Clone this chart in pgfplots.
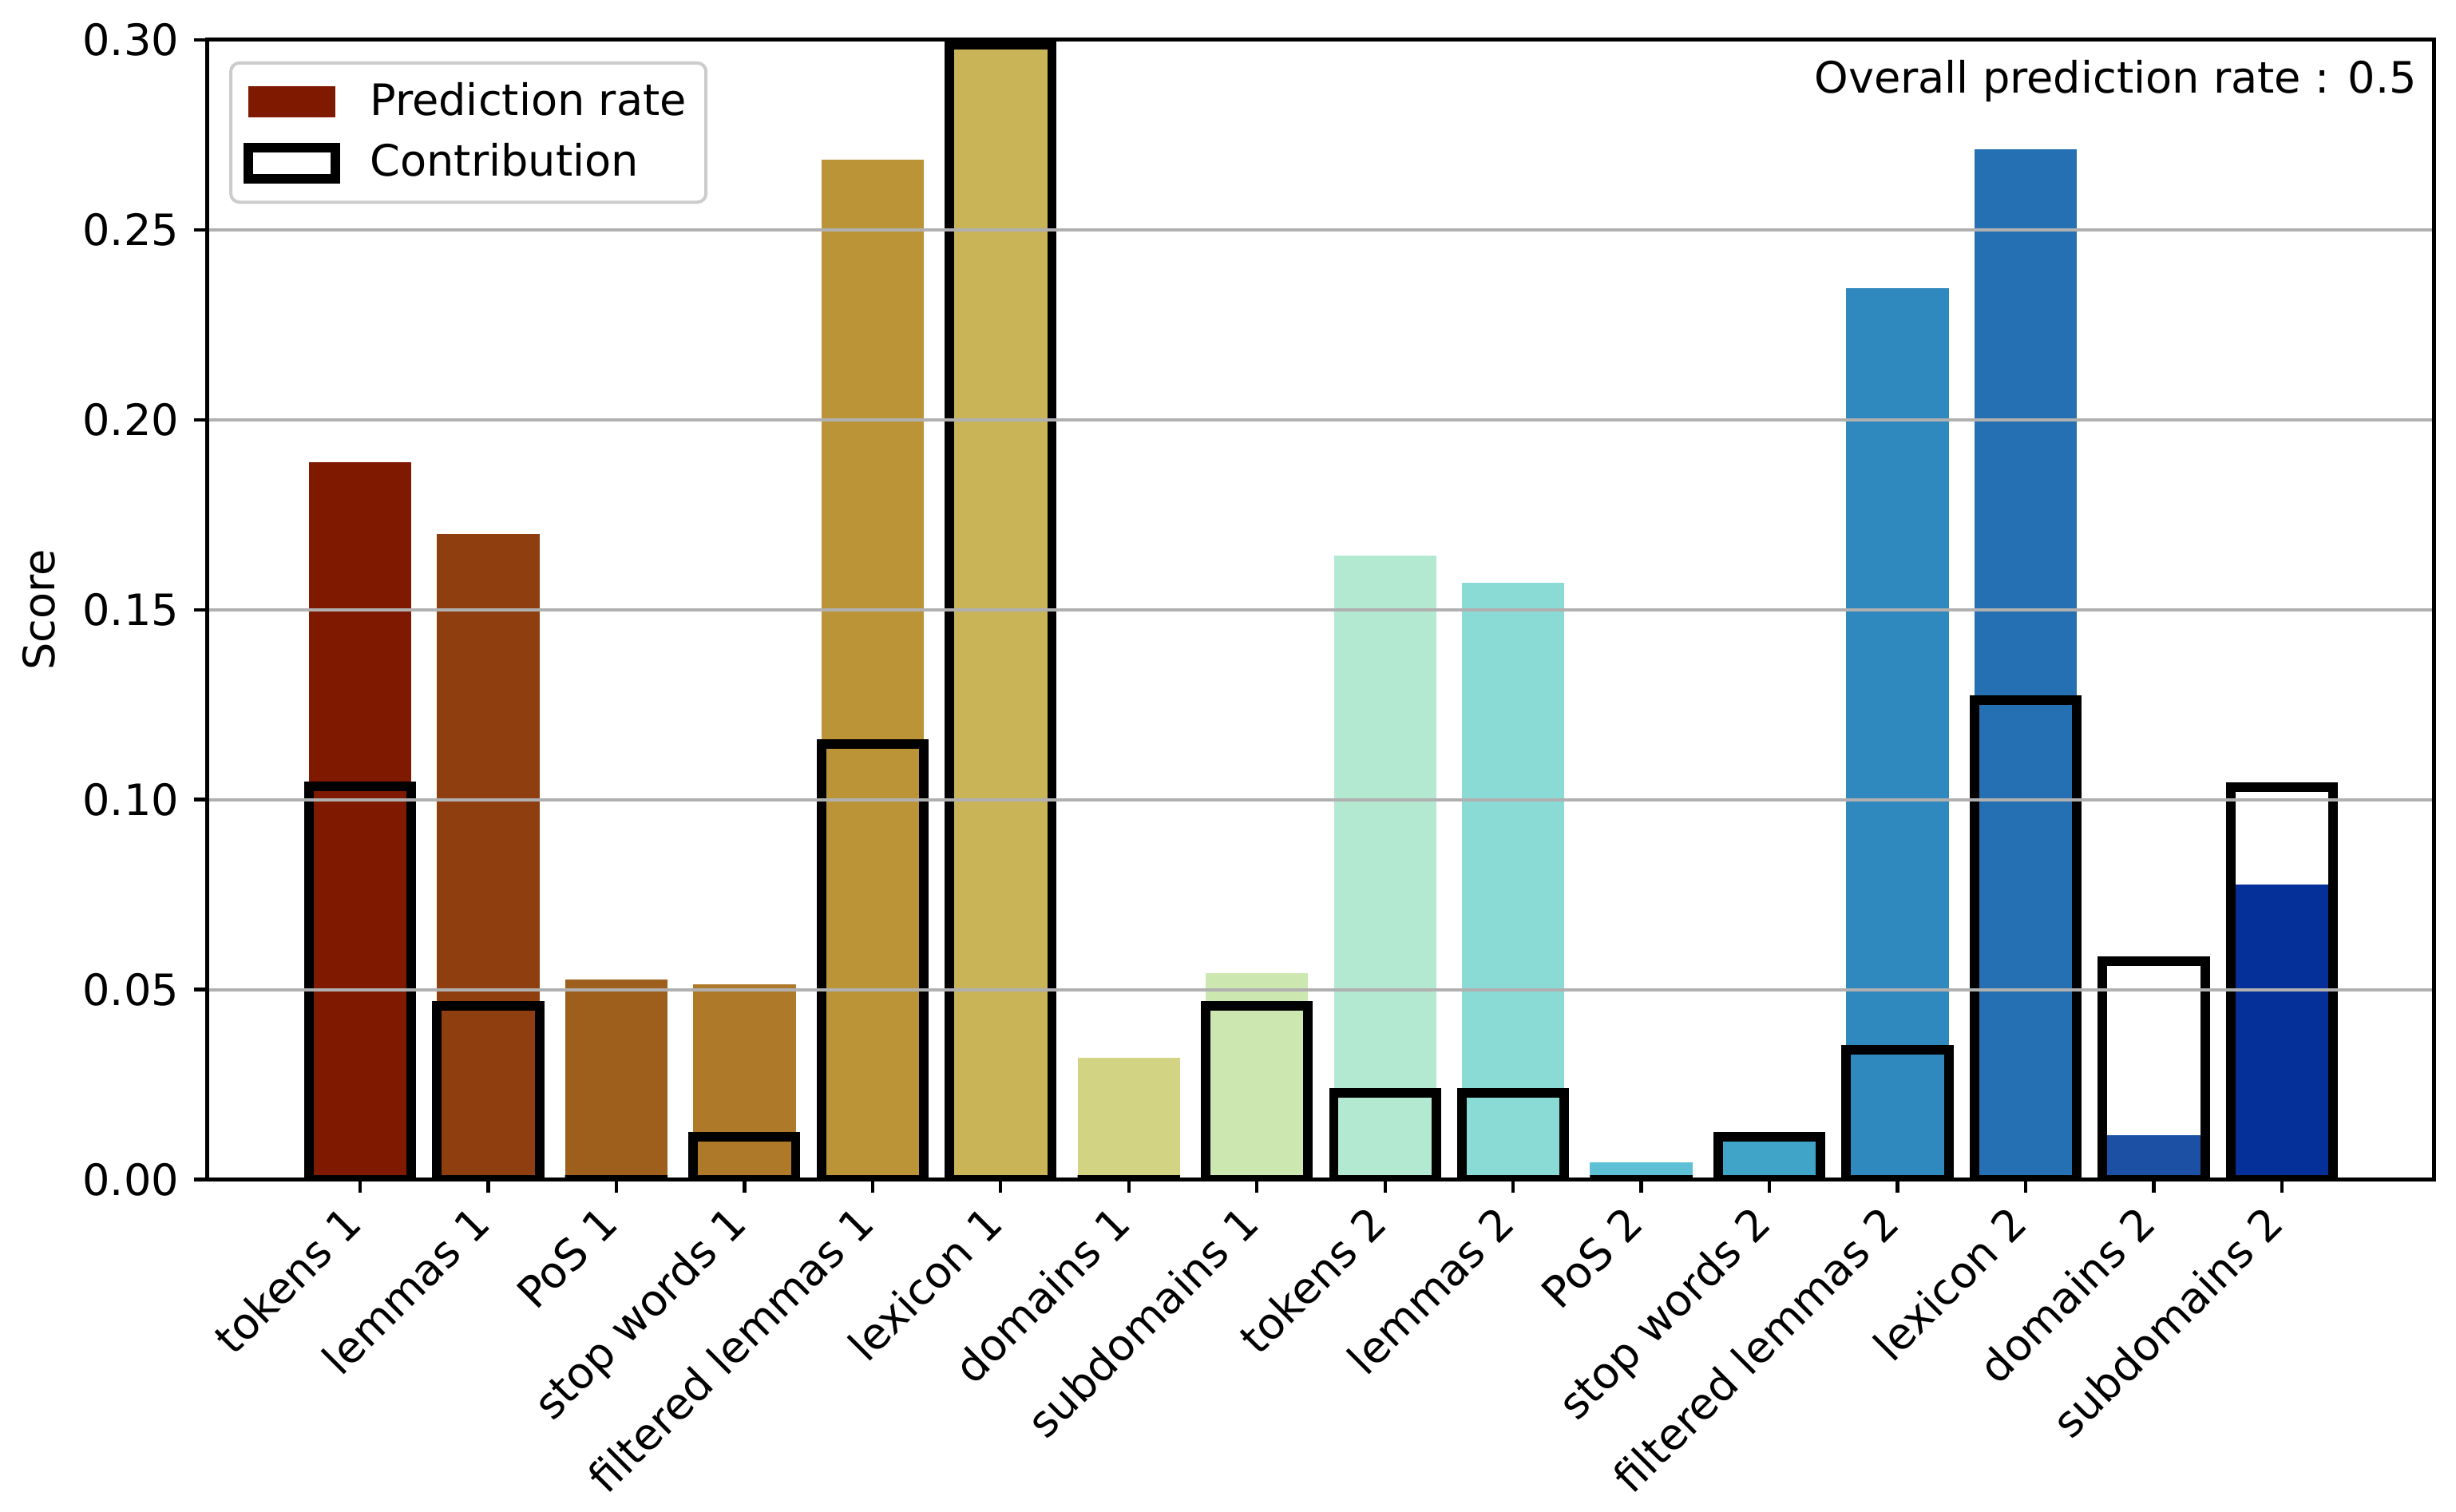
\documentclass[border=0pt]{standalone}
\usepackage{fontspec}
\setmainfont{DejaVu Sans}
\usepackage{pgfplots}
\pgfplotsset{compat=1.18}

\definecolor{c1}{RGB}{127,25,0}
\definecolor{c2}{RGB}{143,62,16}
\definecolor{c3}{RGB}{158,94,28}
\definecolor{c4}{RGB}{174,122,42}
\definecolor{c5}{RGB}{187,148,56}
\definecolor{c6}{RGB}{201,180,88}
\definecolor{c7}{RGB}{211,211,132}
\definecolor{c8}{RGB}{205,231,176}
\definecolor{c9}{RGB}{178,233,208}
\definecolor{c10}{RGB}{138,218,214}
\definecolor{c11}{RGB}{94,192,212}
\definecolor{c12}{RGB}{64,164,201}
\definecolor{c13}{RGB}{47,136,190}
\definecolor{c14}{RGB}{36,112,179}
\definecolor{c15}{RGB}{27,80,165}
\definecolor{c16}{RGB}{5,48,153}
\definecolor{gridgray}{RGB}{176,176,176}
\definecolor{legframe}{RGB}{204,204,204}

\pgfplotsset{
  pr/.style={ybar, bar width=0.8, bar shift=0pt, draw=none, fill=#1},
}

\begin{document}
\begin{tikzpicture}
  \begin{axis}[
      scale only axis,
      width=514.9pt,
      height=263.6pt,
      xmin=-1.19, xmax=16.19,
      ymin=0, ymax=0.30,
      axis on top,
      tick pos=left,
      tick align=outside,
      major tick length=3.1pt,
      every tick/.style={black, line width=0.8pt},
      axis line style={line width=0.92pt},
      ymajorgrids,
      grid style={gridgray, line width=0.74pt},
      xtick={0,1,...,15},
      xticklabels={tokens 1, lemmas 1, PoS 1, stop words 1, filtered lemmas 1, lexicon 1, domains 1, subdomains 1, tokens 2, lemmas 2, PoS 2, stop words 2, filtered lemmas 2, lexicon 2, domains 2, subdomains 2},
      xticklabel style={xshift=1.1pt, yshift=-7.6pt, rotate=45, anchor=base east, inner sep=0pt},
      ytick={0,0.05,0.1,0.15,0.2,0.25,0.3},
      scaled y ticks=false,
      yticklabel style={/pgf/number format/.cd, fixed, fixed zerofill, precision=2, assume math mode=true},
      legend cell align=left,
      legend style={at={(rel axis cs:0,1)}, anchor=north west, xshift=5pt, yshift=-5pt,
        draw=legframe, line width=0.74pt, rounded corners=2pt, fill=white,
        inner xsep=3pt, inner ysep=3pt, row sep=2pt,
        nodes={inner sep=1.5pt},
        /tikz/every odd column/.append style={column sep=5.5pt}},
    ]
    \addplot[pr=c1, legend image code/.code={\fill[c1, sharp corners] (0pt,-3.6pt) rectangle (20pt,3.6pt);}] coordinates {(0,0.1889)};
    \addlegendentry{Prediction rate}
    \addplot[pr=c2, forget plot] coordinates {(1,0.1700)};
    \addplot[pr=c3, forget plot] coordinates {(2,0.0526)};
    \addplot[pr=c4, forget plot] coordinates {(3,0.0513)};
    \addplot[pr=c5, forget plot] coordinates {(4,0.2685)};
    \addplot[pr=c6, forget plot] coordinates {(5,0.2987)};
    \addplot[pr=c7, forget plot] coordinates {(6,0.0320)};
    \addplot[pr=c8, forget plot] coordinates {(7,0.0544)};
    \addplot[pr=c9, forget plot] coordinates {(8,0.1642)};
    \addplot[pr=c10, forget plot] coordinates {(9,0.1571)};
    \addplot[pr=c11, forget plot] coordinates {(10,0.0045)};
    \addplot[pr=c12, forget plot] coordinates {(11,0.0112)};
    \addplot[pr=c13, forget plot] coordinates {(12,0.2347)};
    \addplot[pr=c14, forget plot] coordinates {(13,0.2711)};
    \addplot[pr=c15, forget plot] coordinates {(14,0.0116)};
    \addplot[pr=c16, forget plot] coordinates {(15,0.0777)};

    % contribution outlines
    \addplot[ybar, bar width=0.8, bar shift=0pt, draw=black, line width=2.2pt, fill=none,
      legend image code/.code={\draw[black, line width=2.2pt, fill=white, sharp corners] (0pt,-3.6pt) rectangle (20pt,3.6pt);}] coordinates {
      (0,0.1035) (1,0.0458) (2,0) (3,0.0113) (4,0.1147) (5,0.2987) (6,0) (7,0.0458)
      (8,0.0229) (9,0.0229) (10,0) (11,0.0113) (12,0.0342) (13,0.1262) (14,0.0574) (15,0.1033)
    };
    \addlegendentry{Contribution}

    \node[anchor=base east, inner sep=0pt] at ([xshift=-3.9pt]rel axis cs:1,0.953) {Overall prediction rate : 0.5};

    \coordinate (sw) at (rel axis cs:0,0);
    \coordinate (ne) at (rel axis cs:1,1);
    \coordinate (ml) at (rel axis cs:0,0.5);
  \end{axis}
  \node[rotate=90, inner sep=0pt] at ([xshift=-39pt]ml) {Score};
  \path ([xshift=-48pt,yshift=-76.8pt]sw) rectangle ([xshift=5pt,yshift=9.2pt]ne);
\end{tikzpicture}
\end{document}
